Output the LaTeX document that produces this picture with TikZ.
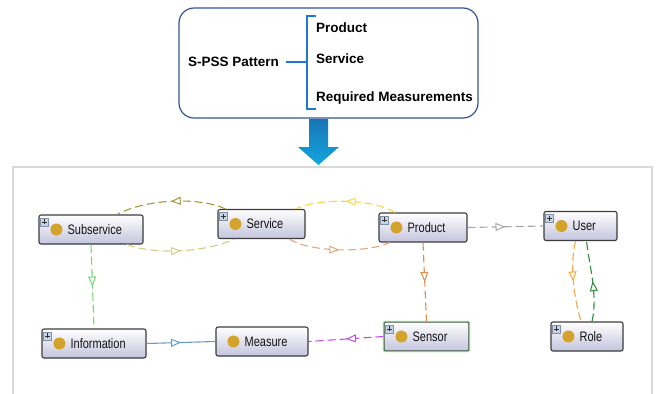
\documentclass[tikz,border=0pt]{standalone}
\usepackage{fontspec}
\setmainfont{Liberation Sans}
\usepackage{graphicx}
\usetikzlibrary{arrows.meta,decorations.markings}

\definecolor{framebl}{HTML}{2F5597}
\definecolor{bracebl}{HTML}{1F78D1}
\definecolor{arrtop}{HTML}{1776B4}
\definecolor{arrbot}{HTML}{12A6E0}
\definecolor{panelgray}{HTML}{D9D9D9}
\definecolor{boxgray}{HTML}{3C3C3C}
\definecolor{boxlav}{HTML}{C4C4DE}
\definecolor{dotgold}{HTML}{D4A32C}
\definecolor{plusfill}{HTML}{C8D4E4}
\definecolor{plusedge}{HTML}{8090A8}
\definecolor{sensgreen}{HTML}{6EE06E}
\definecolor{c-olive}{HTML}{A09A3A}
\definecolor{c-khaki}{HTML}{D2CE80}
\definecolor{c-yellow}{HTML}{F7D84A}
\definecolor{c-peach}{HTML}{E4A878}
\definecolor{c-gray}{HTML}{A8A8A8}
\definecolor{c-brown}{HTML}{E08C50}
\definecolor{c-orange}{HTML}{F4A640}
\definecolor{c-dgreen}{HTML}{2F8A3C}
\definecolor{c-lgreen}{HTML}{6EDC6E}
\definecolor{c-blue}{HTML}{6A9BC8}
\definecolor{c-purple}{HTML}{C04EE6}

\tikzset{
  title/.style={inner sep=0pt, anchor=west, font=\fontsize{13.5}{16}\selectfont\bfseries},
  cls/.style={draw=boxgray, line width=1.1pt, rounded corners=2pt, top color=white,
    bottom color=boxlav, minimum height=29pt, inner sep=0pt},
  lbl/.style={inner sep=0pt, anchor=west, text=black!92, font=\fontsize{11}{13}\selectfont},
  plusbox/.style={draw=plusedge, fill=plusfill, line width=0.5pt, minimum size=8pt, inner sep=0pt},
  midarrow/.style={postaction={decorate}, decoration={markings,
    mark=at position 0.5 with {\arrow{Triangle[length=10pt, width=8pt, fill=white, line width=1pt]}}}},
  rel/.style={line width=1.1pt, dash pattern=on 8pt off 4pt, midarrow},
}

% class box: name, x, y, width, label
\newcommand{\classnode}[5]{%
  \node[cls, minimum width=#4pt] (#1) at (#2,#3) {};
  \fill[dotgold] ([xshift=18pt]#1.west) circle (6pt);
  \node[lbl] (#1-lbl) at ([xshift=29pt]#1.west) {\scalebox{1}[1.25]{#5}};
}
\newcommand{\plusmark}[1]{%
  \node[plusbox] (#1-plus) at ([xshift=6pt,yshift=-7.5pt]#1.north west) {};
  \draw[black!80, line width=0.6pt] ([xshift=-2.5pt]#1-plus.center) -- ([xshift=2.5pt]#1-plus.center)
    ([yshift=-2.5pt]#1-plus.center) -- ([yshift=2.5pt]#1-plus.center);
}

\begin{document}
\begin{tikzpicture}[x=1pt, y=-1pt]
  \useasboundingbox (0,0) rectangle (657,394);

  % pattern box
  \node[draw=framebl, line width=1.2pt, rounded corners=15pt, minimum width=299pt,
    minimum height=110pt] (pattern) at (328.5,63) {};
  \node[title] (spss) at (188,62) {S-PSS Pattern};
  \node[title] (p-prod) at (316,28) {Product};
  \node[title] (p-serv) at (316,59) {Service};
  \node[title] (p-meas) at (316,98) {Required Measurements};
  \draw[bracebl, line width=1.8pt] ([xshift=7pt]spss.east) -- (307,62);
  \draw[bracebl, line width=1.8pt] (316,16) -| (307,109) -- (316,109);

  % arrow down
  \shade[top color=arrtop, bottom color=arrbot] (309,119) -- (328,119) -- (328,147) -- (339,147)
    -- (318.5,165) -- (298,147) -- (309,147) -- cycle;

  % ontology panel
  \draw[panelgray, line width=1.5pt] (13,167) rectangle (652,400);

  \classnode{sub}{91}{229.5}{104}{Subservice}
  \classnode{serv}{261.5}{224}{87}{Service}
  \classnode{prod}{423}{227.5}{88}{Product}
  \classnode{user}{580.5}{226}{73}{User}
  \classnode{info}{94}{343.5}{104}{Information}
  \classnode{meas}{262}{341.5}{92}{Measure}
  \classnode{sens}{426.5}{336.5}{85}{Sensor}
  \classnode{role}{587}{336.5}{72}{Role}
  \draw[sensgreen, line width=1.2pt, rounded corners=2pt] (sens.north west) rectangle (sens.south east);
  \plusmark{sub}
  \plusmark{serv}
  \plusmark{prod}
  \plusmark{user}
  \plusmark{info}
  \plusmark{sens}
  \plusmark{role}

  \draw[rel, c-olive] ([xshift=-36pt]serv.north) .. controls +(-25,-12) and +(30,-16) .. ([xshift=26pt]sub.north);
  \draw[rel, c-khaki] ([xshift=36pt]sub.south) .. controls +(25,10) and +(-30,14) .. ([xshift=-27pt]serv.south);
  \draw[rel, c-yellow] ([xshift=-28pt]prod.north) .. controls +(-20,-13) and +(25,-12) .. ([xshift=34pt]serv.north);
  \draw[rel, c-peach] ([xshift=28pt]serv.south) .. controls +(20,13) and +(-25,11) .. ([xshift=-33pt]prod.south);
  \draw[rel, c-gray] (prod.east) -- (user.west);
  \draw[rel, c-brown] (prod.south) -- (sens.north);
  \draw[rel, c-orange] ([xshift=-5pt]user.south) .. controls +(-6,25) and +(-7,-25) .. ([xshift=-6pt]role.north);
  \draw[rel, c-dgreen] ([xshift=5pt]role.north) .. controls +(6,-25) and +(3,25) .. ([xshift=6pt]user.south);
  \draw[rel, c-lgreen] (sub.south) -- (info.north);
  \draw[line width=1.1pt, midarrow, c-blue] (info.east) -- (meas.west);
  \draw[rel, c-purple] (sens.west) -- (meas.east);
\end{tikzpicture}
\end{document}
